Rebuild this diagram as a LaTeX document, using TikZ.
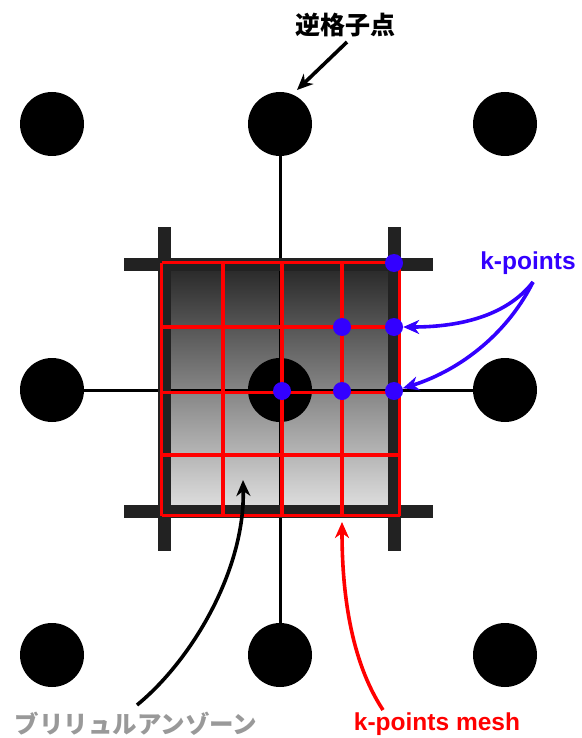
\documentclass[tikz,border=0pt]{standalone}
\usepackage{fontspec}
\setmainfont{Liberation Sans}
\newfontfamily\jp{Noto Sans CJK JP}
\usetikzlibrary{arrows.meta,backgrounds}
\definecolor{kblue}{RGB}{51,0,255}
\definecolor{barc}{RGB}{34,34,34}
\definecolor{zgray}{RGB}{153,153,153}
\begin{document}
\begin{tikzpicture}[x=1pt,y=-1pt,
  lat/.style={circle, fill=black, minimum size=64pt, inner sep=0pt},
  kpt/.style={circle, fill=kblue, minimum size=18pt, inner sep=0pt},
  axisline/.style={line width=3pt, black},
  bzbar/.style={line width=13pt, barc},
  meshline/.style={line width=3.2pt, red},
  lbl/.style={inner sep=0pt},
  arr/.style={line width=3.6pt, -{Stealth[length=16pt,width=14pt,inset=5pt]}}]
\useasboundingbox (0,0) rectangle (581,738);
% lattice points
\node[lat] (p11) at (52,124) {};
\node[lat] (p12) at (280,124) {};
\node[lat] (p13) at (505,124) {};
\node[lat] (p21) at (52,390) {};
\node[lat] (p22) at (280,390) {};
\node[lat] (p23) at (505,390) {};
\node[lat] (p31) at (52,655) {};
\node[lat] (p32) at (280,655) {};
\node[lat] (p33) at (505,655) {};
\begin{scope}[on background layer]
  \shade[top color=black!85, bottom color=black!12] (164,264) rectangle (395,511);
  \draw[axisline] (p12.center) -- (p32.center);
  \draw[axisline] (p21.center) -- (p23.center);
\end{scope}
% Brillouin zone boundary bars
\draw[bzbar] (164.5,227) -- (164.5,551);
\draw[bzbar] (394.5,227) -- (394.5,551);
\draw[bzbar] (124,264.5) -- (433,264.5);
\draw[bzbar] (124,511) -- (433,511);
% k-point mesh
\foreach \xx in {161.5,223,282,342,399.5}
  \draw[meshline] (\xx,262.5) -- (\xx,515.5);
\foreach \yy in {262.5,327,392.5,455,515.5}
  \draw[meshline] (161.5,\yy) -- (399.5,\yy);
% k-points
\node[kpt] (k1) at (394,263) {};
\node[kpt] (k2) at (342,327) {};
\node[kpt] (k3) at (394,327) {};
\node[kpt] (k4) at (282,391) {};
\node[kpt] (k5) at (342,391) {};
\node[kpt] (k6) at (394,391) {};
% labels
\node[lbl, font=\jp\bfseries\fontsize{25}{25}\selectfont] (lrecip) at (345,25) {逆格子点};
\node[lbl, font=\bfseries\fontsize{24.5}{25}\selectfont, text=kblue] (lkp) at (528,263) {k-points};
\node[lbl, font=\bfseries\fontsize{24.5}{25}\selectfont, text=red] (lmesh) at (437,724) {k-points mesh};
\node[lbl, font=\jp\bfseries\fontsize{24.5}{25}\selectfont, text=zgray] (lbz) at (136,724) {ブリリュルアンゾーン};
% arrow anchors
\coordinate (arecip) at (347,42);
\coordinate (arecipend) at (297,90);
\coordinate (akp) at (533,282);
\coordinate (abz) at (137,705);
\coordinate (abzend) at (243,480);
\coordinate (amesh) at (383,710);
\coordinate (ameshend) at (342,522);
% arrows
\draw[arr, black] (arecip) -- (arecipend);
\draw[arr, kblue] (akp) .. controls (505,318) and (455,327) .. (k3);
\draw[arr, kblue] (akp) .. controls (505,338) and (455,372) .. (k6);
\draw[arr, black] (abz) .. controls (192,660) and (245,570) .. (abzend);
\draw[arr, red] (amesh) .. controls (350,660) and (342,590) .. (ameshend);
\end{tikzpicture}
\end{document}
